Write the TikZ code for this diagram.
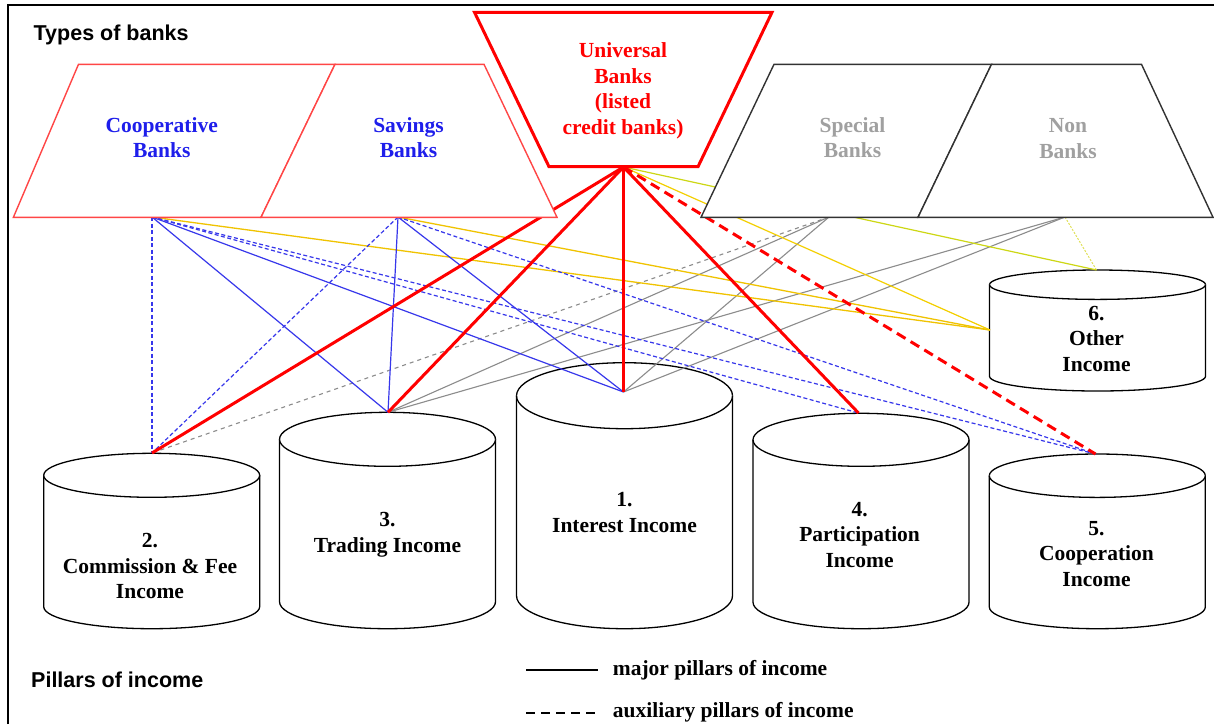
\documentclass[tikz,border=0pt]{standalone}
\usepackage{fontspec}
\setmainfont{Liberation Serif}
\newfontfamily\titlefont{Liberation Sans}
\definecolor{lineblue}{RGB}{55,55,235}
\definecolor{textblue}{RGB}{30,30,235}
\definecolor{linegray}{RGB}{140,140,140}
\definecolor{textgray}{RGB}{160,160,160}
\definecolor{gold}{RGB}{240,195,0}
\definecolor{lime}{RGB}{205,215,20}
\definecolor{paleyellow}{RGB}{225,225,90}
\definecolor{grpred}{RGB}{255,70,70}
\definecolor{grpdark}{RGB}{50,50,50}

% one pillar of income: centre x, top y, half-height of the ellipses, lowest y
\newcommand\pillar[4]{%
  \draw[pillarline] ({#1-108},{#2+#3}) -- ({#1-108},{#4-#3})
    arc[start angle=180,end angle=360,x radius=108pt,y radius=#3pt]
    -- ({#1+108},{#2+#3})
    arc[start angle=0,end angle=180,x radius=108pt,y radius=#3pt] -- cycle;
  \draw[pillarline] ({#1-108},{#2+#3})
    arc[start angle=180,end angle=360,x radius=108pt,y radius=#3pt];
}

\begin{document}
\begin{tikzpicture}[x=1pt,y=-1pt,
  lbl/.style={font=\bfseries\fontsize{21.5}{25.5}\selectfont,align=center,inner sep=0pt},
  heading/.style={font=\titlefont\bfseries\fontsize{21.5}{25}\selectfont,inner sep=0pt},
  pillarline/.style={draw=black,line width=1.3pt,fill=white},
  redgroup/.style={draw=grpred,line width=1.4pt,fill=white,line join=miter},
  darkgroup/.style={draw=grpdark,line width=1.4pt,fill=white,line join=miter},
  unibox/.style={draw=red,line width=3pt,fill=white,line join=miter},
  major/.style={draw=red,line width=3pt},
  majoraux/.style={major,dash pattern=on 10pt off 6pt},
  bluemain/.style={draw=lineblue,line width=1.2pt},
  blueaux/.style={bluemain,dash pattern=on 4pt off 2.5pt},
  graymain/.style={draw=linegray,line width=1.1pt},
  grayaux/.style={graymain,dash pattern=on 4pt off 4pt},
  goldmain/.style={draw=gold,line width=1.3pt},
  limemain/.style={draw=lime,line width=1.2pt},
  paleaux/.style={draw=paleyellow,line width=1pt,dash pattern=on 2pt off 1.5pt}
]
\useasboundingbox (0,0) rectangle (1214,724);
\fill[white] (0,0) rectangle (1214,724);

% ---- pillars of income (cans) ----
\pillar{624.5}{362.7}{33}{628.7}
\pillar{151.7}{453.3}{22}{628.7}
\pillar{387.5}{412.3}{27}{628.7}
\pillar{861}{413.3}{26.5}{628.7}
\pillar{1097.3}{454}{21.7}{628.7}
\pillar{1097.5}{270}{14.7}{391}

% ---- connection points ----
\coordinate (coop)  at (152,217);
\coordinate (sav)   at (398,217);
\coordinate (uni)   at (623.5,167);
\coordinate (spec)  at (829,217);
\coordinate (nonb)  at (1065,217);
\coordinate (p1c)   at (623.5,392);
\coordinate (p2t)   at (152,453);
\coordinate (p3t)   at (388,412.3);
\coordinate (p4t)   at (858.5,413);
\coordinate (p5t)   at (1095.5,454);
\coordinate (p6t)   at (1096.5,270);
\coordinate (p6l)   at (990,330);

% ---- connectors ----
% gray: special banks and non banks
\draw[grayaux]  (spec) -- (p2t);
\draw[graymain] (spec) -- (p3t);
\draw[graymain] (spec) -- (p1c);
\draw[graymain] (nonb) -- (p3t);
\draw[graymain] (nonb) -- (p1c);
\draw[paleaux]  (nonb) -- (p6t);
% yellow: other income
\draw[goldmain] (coop) -- (p6l);
\draw[goldmain] (sav)  -- (p6l);
\draw[draw=gold!80!yellow,line width=1.2pt] (uni) -- (p6l);
\draw[limemain] (uni)  -- (p6t);
% blue: cooperative and savings banks
\draw[blueaux]  (coop) -- (p2t);
\draw[bluemain] (coop) -- (p3t);
\draw[bluemain] (coop) -- (p1c);
\draw[blueaux]  (coop) -- (p4t);
\draw[blueaux]  (coop) -- (p5t);
\draw[blueaux]  (sav)  -- (p2t);
\draw[bluemain] (sav)  -- (p3t);
\draw[bluemain] (sav)  -- (p1c);
\draw[blueaux]  (sav)  -- (p5t);
% red: universal banks
\draw[major]    (uni) -- (p2t);
\draw[major]    (uni) -- (p3t);
\draw[major]    (uni) -- (p1c);
\draw[major]    (uni) -- (p4t);
\draw[majoraux] (uni) -- (p5t);

% ---- types of banks ----
\draw[redgroup] (78.5,64.3) -- (335,64.3) -- (261,217.3) -- (13.4,217.3) -- cycle;
\draw[redgroup] (335,64.3) -- (484,64.3) -- (557,217.3) -- (261,217.3) -- cycle;
\draw[darkgroup] (774,64.3) -- (991.5,64.3) -- (918,217.3) -- (701,217.3) -- cycle;
\draw[darkgroup] (991.5,64.3) -- (1141.5,64.3) -- (1213,217.3) -- (918,217.3) -- cycle;
\draw[unibox] (474.5,12.3) -- (772,12.3) -- (698,166.7) -- (549,166.7) -- cycle;

\node[lbl,text=textblue] (tcoop) at (161.7,137.5) {Cooperative\\Banks};
\node[lbl,text=textblue] (tsav)  at (408.5,137.5) {Savings\\Banks};
\node[lbl,text=red]      (tuni)  at (623,91) {Universal\\Banks\\(listed\\credit banks)};
\node[lbl,text=textgray] (tspec) at (852.5,137.5) {Special\\Banks};
\node[lbl,text=textgray] (tnon)  at (1068,138.5) {Non\\Banks};

% ---- pillar labels ----
\node[lbl] (p1) at (624.5,512.5) {1.\\Interest Income};
\node[lbl] (p2) at (150,566) {2.\\Commission \& Fee\\Income};
\node[lbl] (p3) at (387.5,534.5) {3.\\Trading Income};
\node[lbl] (p4) at (859.6,535) {4.\\Participation\\Income};
\node[lbl] (p5) at (1096.5,554) {5.\\Cooperation\\Income};
\node[lbl] (p6) at (1096.5,338.5) {6.\\Other\\Income};

% ---- headings ----
\node[heading,anchor=base west] (hbanks) at (33.5,40.5) {Types of banks};
\node[heading,anchor=base west] (hpill)  at (31,687) {Pillars of income};

% ---- legend ----
\coordinate (lg1a) at (526,670);
\coordinate (lg1b) at (598,670);
\coordinate (lg2a) at (526,712.5);
\coordinate (lg2b) at (598,712.5);
\draw[line width=2pt] (lg1a) -- (lg1b);
\draw[line width=2pt,dash pattern=on 9pt off 6pt] (lg2a) -- (lg2b);
\node[lbl,anchor=west] (lgmajor) at (612.7,670) {major pillars of income};
\node[lbl,anchor=west] (lgaux)   at (612.7,712) {auxiliary pillars of income};

% ---- frame ----
\draw[line width=2pt] (7.7,724) -- (7.7,5) -- (1214,5);
\end{tikzpicture}
\end{document}
